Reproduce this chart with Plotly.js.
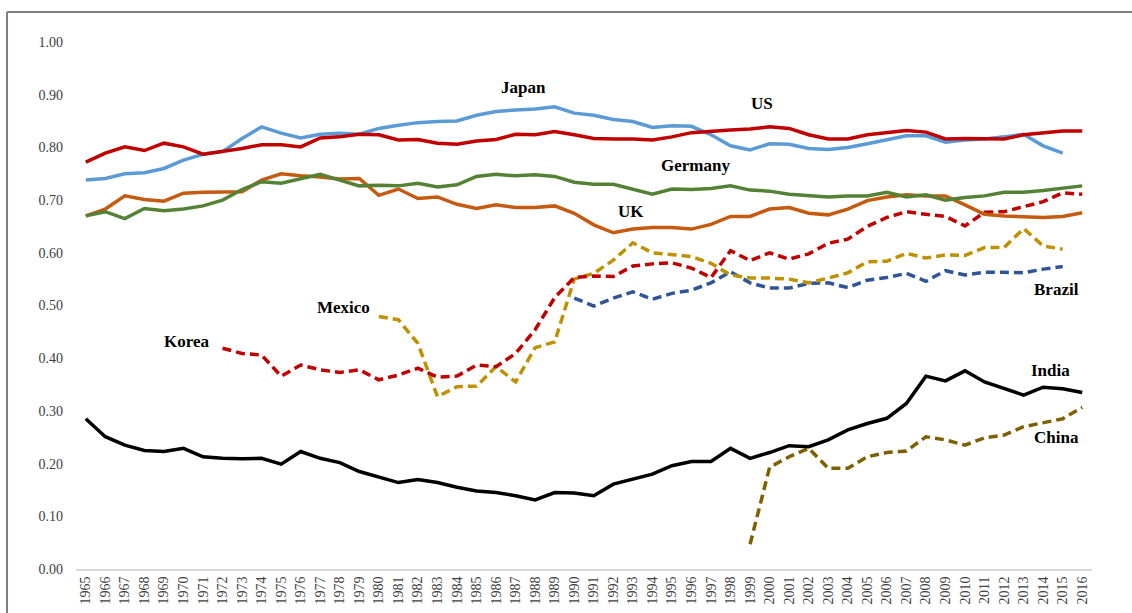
<!DOCTYPE html>
<html>
<head>
<meta charset="utf-8">
<script src="https://cdn.plot.ly/plotly-3.0.1.min.js"></script>
<style>html,body{margin:0;padding:0;background:#fff;}#chart{width:1132px;height:613px;}</style>
</head>
<body>
<div id="chart"></div>
<script>
const years = [1965,1966,1967,1968,1969,1970,1971,1972,1973,1974,1975,1976,1977,1978,1979,1980,1981,1982,1983,1984,1985,1986,1987,1988,1989,1990,1991,1992,1993,1994,1995,1996,1997,1998,1999,2000,2001,2002,2003,2004,2005,2006,2007,2008,2009,2010,2011,2012,2013,2014,2015,2016];

const us = [0.772,0.789,0.801,0.794,0.808,0.801,0.787,0.792,0.798,0.805,
            0.805,0.801,0.818,0.820,0.825,0.824,0.814,0.815,0.808,0.806,
            0.812,0.815,0.825,0.824,0.830,0.824,0.817,0.816,0.816,0.814,
            0.820,0.828,0.831,0.833,0.835,0.839,0.836,0.824,0.816,0.816,
            0.824,0.828,0.832,0.829,0.816,0.817,0.816,0.816,0.824,0.827,
            0.831,0.831];
const japan = [0.738,0.741,0.750,0.752,0.760,0.776,0.787,0.792,0.817,0.839,
               0.827,0.818,0.825,0.827,0.825,0.836,0.842,0.847,0.849,0.850,
               0.861,0.868,0.871,0.873,0.877,0.865,0.861,0.853,0.849,0.838,
               0.841,0.840,0.824,0.803,0.795,0.807,0.806,0.798,0.796,0.800,
               0.807,0.815,0.822,0.822,0.810,0.814,0.816,0.820,0.825,0.803,
               0.789,null];
const germany = [0.670,0.678,0.665,0.684,0.680,0.683,0.689,0.700,0.720,0.735,
                 0.732,0.741,0.749,0.738,0.727,0.728,0.727,0.732,0.725,0.729,
                 0.745,0.749,0.746,0.748,0.745,0.734,0.730,0.730,0.720,0.711,
                 0.721,0.720,0.722,0.727,0.719,0.717,0.711,0.708,0.706,0.708,
                 0.708,0.715,0.706,0.710,0.700,0.705,0.708,0.715,0.715,0.718,
                 0.722,0.727];
const uk = [0.670,0.683,0.708,0.701,0.698,0.713,0.715,0.715,0.716,0.738,
            0.750,0.746,0.744,0.740,0.741,0.709,0.721,0.703,0.706,0.692,
            0.684,0.691,0.686,0.686,0.689,0.675,0.653,0.638,0.645,0.648,
            0.648,0.645,0.654,0.669,0.669,0.683,0.686,0.675,0.672,0.683,
            0.699,0.706,0.710,0.708,0.708,0.691,0.673,0.670,0.669,0.667,
            0.669,0.676];
const korea = [null,null,null,null,null,null,null,0.419,0.409,0.406,
               0.366,0.387,0.378,0.373,0.378,0.359,0.368,0.381,0.364,0.366,
               0.387,0.384,0.409,0.454,0.515,0.553,0.556,0.555,0.575,0.579,
               0.581,0.571,0.553,0.604,0.585,0.600,0.588,0.598,0.618,0.626,
               0.650,0.667,0.678,0.673,0.669,0.651,0.677,0.678,0.688,0.697,
               0.714,0.711];
const mexico = [null,null,null,null,null,null,null,null,null,null,
                null,null,null,null,null,0.479,0.473,0.428,0.327,0.346,
                0.347,0.384,0.355,0.420,0.431,0.550,0.561,0.586,0.619,0.600,
                0.596,0.593,0.580,0.558,0.552,0.552,0.550,0.543,0.552,0.562,
                0.583,0.584,0.599,0.590,0.596,0.595,0.610,0.610,0.646,0.613,
                0.607,null];
const brazil = [null,null,null,null,null,null,null,null,null,null,
                null,null,null,null,null,null,null,null,null,null,
                null,null,null,null,null,0.514,0.499,0.514,0.526,0.512,
                0.523,0.529,0.543,0.564,0.543,0.533,0.533,0.542,0.543,0.534,
                0.548,0.553,0.561,0.546,0.566,0.558,0.563,0.563,0.562,0.569,
                0.574,null];
const india = [0.285,0.251,0.235,0.225,0.223,0.229,0.213,0.210,0.209,0.210,
               0.199,0.223,0.210,0.202,0.185,0.175,0.164,0.170,0.164,0.155,
               0.148,0.145,0.139,0.131,0.145,0.144,0.139,0.161,0.170,0.180,
               0.196,0.204,0.204,0.229,0.210,0.221,0.234,0.232,0.245,0.264,
               0.276,0.286,0.314,0.366,0.357,0.376,0.355,0.342,0.330,0.345,
               0.342,0.335];
const china = [null,null,null,null,null,null,null,null,null,null,
               null,null,null,null,null,null,null,null,null,null,
               null,null,null,null,null,null,null,null,null,null,
               null,null,null,null,0.047,0.193,0.213,0.229,0.191,0.191,
               0.213,0.221,0.224,0.251,0.245,0.235,0.249,0.254,0.270,0.278,
               0.285,0.307];

const labels = ["Japan","US","Germany","UK","Mexico","Korea","Brazil","India","China"];
const labelX = [1987.4,1999.6,1996.2,1992.9,1978.2,1970.2,2014.7,2014.4,2014.7];
const labelY = [0.913,0.884,0.765,0.679,0.497,0.431,0.531,0.376,0.250];

const DASH = "9px,5px";
function tr(name, y, color, dash){
  return {x: years, y: y, name: name, type: "scatter", mode: "lines",
          line: {color: color, width: 3.5, dash: dash || "solid"},
          connectgaps: false, hoverinfo: "x+y+name"};
}

const data = [
  tr("China", china, "#7F6000", DASH),
  tr("India", india, "#000000"),
  tr("Brazil", brazil, "#2F5597", DASH),
  tr("Mexico", mexico, "#BF9000", DASH),
  tr("Korea", korea, "#C00000", DASH),
  tr("UK", uk, "#C55A11"),
  tr("Germany", germany, "#548235"),
  tr("Japan", japan, "#5B9BD5"),
  tr("US", us, "#C00000")
];

const serif = "'Liberation Serif', 'Times New Roman', serif";
const annotations = labels.map((t, i) => ({
  x: labelX[i], y: labelY[i], xref: "x", yref: "y", text: "<b>" + t + "</b>",
  showarrow: false, font: {family: serif, size: 17, color: "#000"},
  xanchor: "center", yanchor: "middle"
}));

const layout = {
  width: 1132, height: 613,
  margin: {l: 76, r: 40, t: 42, b: 44},
  paper_bgcolor: "#ffffff", plot_bgcolor: "#ffffff",
  showlegend: false,
  font: {family: serif, color: "#404040"},
  xaxis: {
    type: "linear", range: [1964.5, 2016.5], tickmode: "array", tickvals: years,
    ticktext: years.map(String), tickangle: -90, showgrid: false, zeroline: false,
    showline: true, linecolor: "#d9d9d9", linewidth: 2, ticks: "",
    tickfont: {family: serif, size: 14, color: "#404040"}, fixedrange: true
  },
  yaxis: {
    range: [0, 1], tickmode: "array", tickvals: [0,0.1,0.2,0.3,0.4,0.5,0.6,0.7,0.8,0.9,1.0],
    tickformat: ".2f", showgrid: false, zeroline: false, showline: false, ticks: "",
    ticklabelstandoff: 12,
    tickfont: {family: serif, size: 14, color: "#404040"}, fixedrange: true
  },
  annotations: annotations,
  shapes: [
    {type: "line", xref: "paper", yref: "paper", x0: -0.0679, x1: 1.05, y0: 1.0569, y1: 1.0569,
     line: {color: "#7f7f7f", width: 2}},
    {type: "line", xref: "paper", yref: "paper", x0: -0.0679, x1: -0.0679, y0: 1.0569, y1: -0.1,
     line: {color: "#7f7f7f", width: 2}}
  ]
};

Plotly.newPlot("chart", data, layout, {displayModeBar: false, staticPlot: true});
</script>
</body>
</html>
